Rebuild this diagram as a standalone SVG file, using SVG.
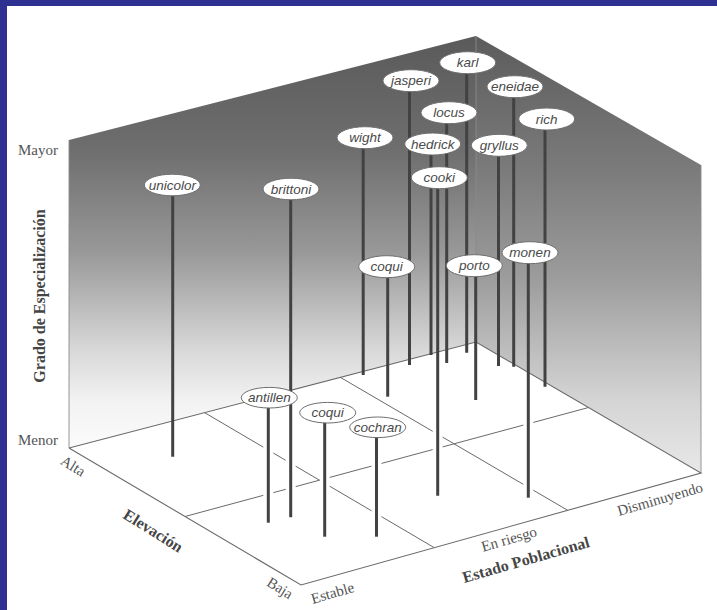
<svg xmlns="http://www.w3.org/2000/svg" width="717" height="610" viewBox="0 0 717 610">
  <style>
    .edge { stroke: #6a6a6a; stroke-width: 1.1; fill: none; }
    .grid { stroke: #6a6a6a; stroke-width: 1; fill: none; }
    .seam { stroke: #8a8a8a; stroke-width: 0.9; fill: none; }
    .stem { stroke: #424242; stroke-width: 3; stroke-linecap: butt; }
    .halo { stroke: #ffffff; stroke-width: 10; }
    .tag ellipse { fill: #ffffff; stroke: #6e6e6e; stroke-width: 1; }
    .tag text { font-family: "Liberation Sans", Arial, sans-serif; font-style: italic; font-size: 13.5px; fill: #4a4a4a; text-anchor: middle; }
    .axis { font-family: "Liberation Serif", "Times New Roman", serif; font-size: 15px; fill: #555555; }
    .title { font-family: "Liberation Serif", "Times New Roman", serif; font-size: 16px; font-weight: bold; fill: #454545; text-anchor: middle; }
    .mid { text-anchor: middle; }
  </style>
  <defs>
    <linearGradient id="leftShade" gradientUnits="userSpaceOnUse" x1="0" y1="36" x2="0" y2="450">
      <stop offset="0" stop-color="#5a5a5a"/>
      <stop offset="0.275" stop-color="#6e6e6e"/>
      <stop offset="0.52" stop-color="#989898"/>
      <stop offset="0.64" stop-color="#b8b8b8"/>
      <stop offset="0.758" stop-color="#d8d8d8"/>
      <stop offset="0.88" stop-color="#f2f2f2"/>
      <stop offset="1" stop-color="#fcfcfc"/>
    </linearGradient>
    <linearGradient id="rightShade" gradientUnits="userSpaceOnUse" x1="0" y1="36" x2="0" y2="520">
      <stop offset="0" stop-color="#5c5c5c"/>
      <stop offset="0.27" stop-color="#7a7a7a"/>
      <stop offset="0.5" stop-color="#9c9c9c"/>
      <stop offset="0.75" stop-color="#d4d4d4"/>
      <stop offset="1" stop-color="#f4f4f4"/>
    </linearGradient>
  </defs>

  <!-- page and frame -->
  <rect x="0" y="0" width="717" height="610" fill="#ffffff"/>
  <rect x="0" y="0" width="717" height="6" fill="#2e3092"/>
  <rect x="0" y="0" width="7" height="610" fill="#2e3092"/>

  <!-- back walls -->
  <g id="walls">
    <polygon points="69,140 476,36 476,342 69,448" fill="url(#leftShade)"/>
    <polygon points="476,36 701,165 701,473 476,342" fill="url(#rightShade)"/>
    <line class="seam" x1="69" y1="140" x2="69" y2="448"/>
    <line class="seam" x1="476" y1="36" x2="476" y2="342"/>
    <line class="seam" x1="701" y1="165" x2="701" y2="473"/>
  </g>

  <!-- floor outline and grid -->
  <g id="floor">
    <polyline class="edge" points="69,448 476,342 701,473 301,585 69,448"/>
    <line class="grid" x1="204.7" y1="412.7" x2="434.3" y2="547.7"/>
    <line class="grid" x1="340.3" y1="377.3" x2="567.7" y2="510.3"/>
    <line class="grid" x1="185" y1="516.5" x2="588.5" y2="407.5"/>
  </g>

  <!-- axis labels -->
  <g id="axes">
    <text class="axis" x="18" y="155">Mayor</text>
    <text class="axis" x="18" y="445">Menor</text>
    <text class="title" transform="translate(45,296) rotate(-90)">Grado de Especialización</text>
    <text class="axis mid" transform="translate(73,466) rotate(32)" y="5">Alta</text>
    <text class="axis mid" transform="translate(280,588) rotate(32)" y="5">Baja</text>
    <text class="title" transform="translate(153,531) rotate(32)" y="5">Elevación</text>
    <text class="axis mid" transform="translate(332.5,593) rotate(-16)" y="5">Estable</text>
    <text class="axis mid" transform="translate(509,539) rotate(-16)" y="5">En riesgo</text>
    <text class="axis mid" transform="translate(660,499) rotate(-16)" y="5">Disminuyendo</text>
    <text class="title" transform="translate(526,560) rotate(-16)" y="5">Estado Poblacional</text>
  </g>

  <!-- stems: white halos break the floor lines, then the dark posts -->
  <g id="stems">
    <line class="halo" x1="268.3" y1="409" x2="268.3" y2="522"/>
    <line class="halo" x1="290.7" y1="393" x2="290.7" y2="517"/>
    <line class="halo" x1="324.7" y1="423" x2="324.7" y2="536"/>
    <line class="halo" x1="376.5" y1="438" x2="376.5" y2="536"/>
    <line class="halo" x1="437.7" y1="356" x2="437.7" y2="495"/>
    <line class="halo" x1="528.3" y1="376" x2="528.3" y2="497"/>

    <line class="stem" x1="466.7" y1="62" x2="466.7" y2="352.7"/>
    <line class="stem" x1="409.5" y1="80" x2="409.5" y2="365"/>
    <line class="stem" x1="513.7" y1="86" x2="513.7" y2="366.7"/>
    <line class="stem" x1="446.7" y1="112" x2="446.7" y2="363"/>
    <line class="stem" x1="545" y1="119" x2="545" y2="386.7"/>
    <line class="stem" x1="363.2" y1="137" x2="363.2" y2="375"/>
    <line class="stem" x1="431" y1="144" x2="431" y2="355"/>
    <line class="stem" x1="498.5" y1="145" x2="498.5" y2="366"/>
    <line class="stem" x1="437.7" y1="178" x2="437.7" y2="495.7"/>
    <line class="stem" x1="172.7" y1="185" x2="172.7" y2="456.7"/>
    <line class="stem" x1="290.7" y1="189" x2="290.7" y2="517.3"/>
    <line class="stem" x1="528.3" y1="253" x2="528.3" y2="497.7"/>
    <line class="stem" x1="475.7" y1="266" x2="475.7" y2="400"/>
    <line class="stem" x1="387.7" y1="267" x2="387.7" y2="396.7"/>
    <line class="stem" x1="268.3" y1="398" x2="268.3" y2="522.7"/>
    <line class="stem" x1="324.7" y1="413" x2="324.7" y2="536.7"/>
    <line class="stem" x1="376.5" y1="427" x2="376.5" y2="536.7"/>
  </g>

  <!-- species tags -->
  <g id="karl" class="tag"><ellipse cx="467.7" cy="62.7" rx="28" ry="11"/><text x="467.7" y="67.3">karl</text></g>
  <g id="jasperi" class="tag"><ellipse cx="411" cy="80.7" rx="28" ry="11"/><text x="411" y="85.3">jasperi</text></g>
  <g id="eneidae" class="tag"><ellipse cx="515" cy="86.7" rx="28" ry="11"/><text x="515" y="91.3">eneidae</text></g>
  <g id="locus" class="tag"><ellipse cx="449" cy="112.7" rx="28" ry="11"/><text x="449" y="117.3">locus</text></g>
  <g id="rich" class="tag"><ellipse cx="546.7" cy="119" rx="28" ry="11"/><text x="546.7" y="123.6">rich</text></g>
  <g id="wight" class="tag"><ellipse cx="365" cy="137.7" rx="28" ry="11"/><text x="365" y="142.3">wight</text></g>
  <g id="hedrick" class="tag"><ellipse cx="432.7" cy="144" rx="28" ry="11"/><text x="432.7" y="148.6">hedrick</text></g>
  <g id="gryllus" class="tag"><ellipse cx="499.3" cy="145.3" rx="28" ry="11"/><text x="499.3" y="149.9">gryllus</text></g>
  <g id="cooki" class="tag"><ellipse cx="439.3" cy="177.7" rx="28" ry="11"/><text x="439.3" y="182.3">cooki</text></g>
  <g id="unicolor" class="tag"><ellipse cx="172.3" cy="185" rx="28" ry="10.8"/><text x="172.3" y="189.6">unicolor</text></g>
  <g id="brittoni" class="tag"><ellipse cx="291" cy="189" rx="28" ry="10.8"/><text x="291" y="193.6">brittoni</text></g>
  <g id="monen" class="tag"><ellipse cx="530" cy="252.7" rx="28" ry="11"/><text x="530" y="257.3">monen</text></g>
  <g id="porto" class="tag"><ellipse cx="474.3" cy="265.7" rx="28" ry="11"/><text x="474.3" y="270.3">porto</text></g>
  <g id="coqui-upper" class="tag"><ellipse cx="386.7" cy="266.7" rx="28" ry="11"/><text x="386.7" y="271.3">coqui</text></g>
  <g id="antillen" class="tag"><ellipse cx="269.3" cy="397.7" rx="28" ry="10.3"/><text x="269.3" y="402.3">antillen</text></g>
  <g id="coqui-lower" class="tag"><ellipse cx="327.7" cy="412.7" rx="28" ry="10.3"/><text x="327.7" y="417.3">coqui</text></g>
  <g id="cochran" class="tag"><ellipse cx="377.7" cy="427.3" rx="28" ry="10.3"/><text x="377.7" y="431.9">cochran</text></g>
</svg>
